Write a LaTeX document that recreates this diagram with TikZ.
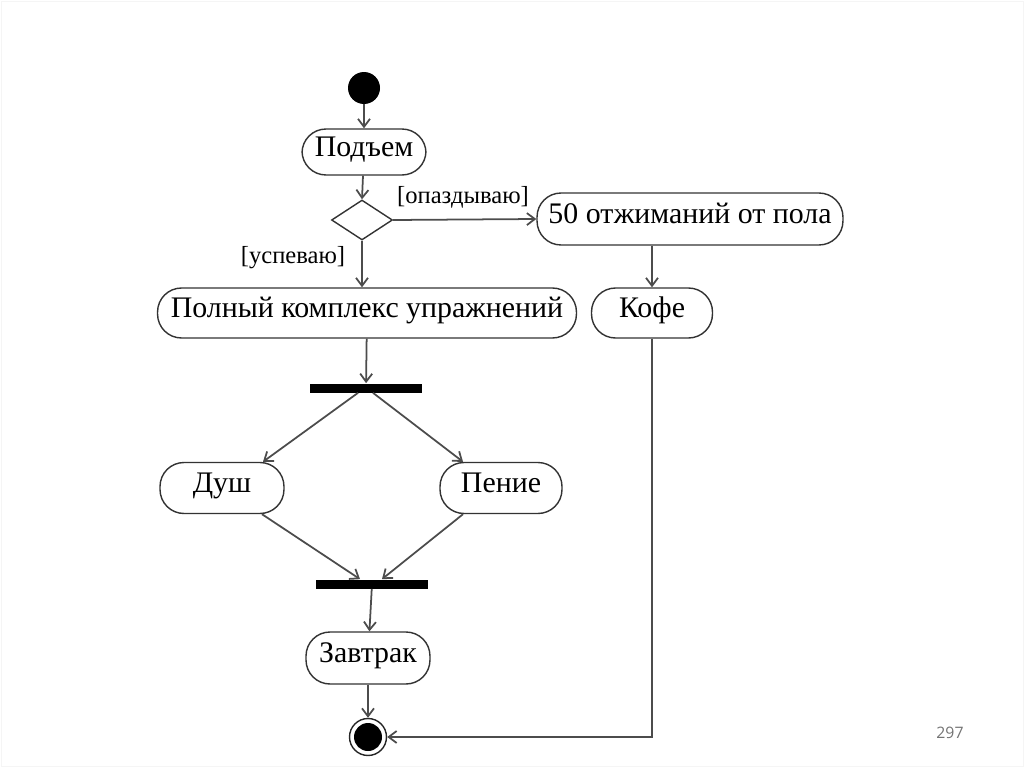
\documentclass[tikz,border=0pt]{standalone}
\usepackage{fontspec}
\setmainfont{Liberation Serif}
\newfontfamily\pagefont{Open Sans}
\usetikzlibrary{shapes.geometric,arrows.meta}
\tikzset{
  act/.style={draw=black!80,line width=0.8pt,rounded corners=0.48cm,minimum height=1cm,inner sep=2pt,
    text height=1.5ex,text depth=0.4ex,font=\fontsize{17}{19}\selectfont},
  bar/.style={fill=black,minimum width=2.24cm,minimum height=0.18cm,inner sep=0pt},
  guard/.style={font=\fontsize{14}{16}\selectfont,inner sep=1pt},
  flow/.style={draw=black!70,line width=1pt,-{Straight Barb[length=1.6mm,width=2.4mm]}}
}
\begin{document}
\begin{tikzpicture}[x=0.02cm,y=-0.02cm]
        \useasboundingbox (0,0) rectangle (1024,767);
        \draw [black!4] (1,1) rectangle (1023,766);
        % start and decision
        \node [circle,fill=black,minimum size=0.64cm,inner sep=0pt] (start) at (364,88) {};
        \node [act,minimum width=2.48cm,minimum height=0.92cm] (rise) at (364,152) {Подъем};
        \node [diamond,draw=black!80,line width=0.8pt,minimum width=1.22cm,minimum height=0.8cm,inner sep=0pt] (dec) at (362,220) {};
        \node [act,minimum width=6.12cm,minimum height=1.04cm] (push) at (690,219) {50 отжиманий от пола};
        \node [act,minimum width=8.38cm] (full) at (367,313) {Полный комплекс упражнений};
        \node [act,minimum width=2.42cm] (coffee) at (652,313) {Кофе};
        % fork and join
        \node [bar] (fork) at (366,388) {};
        \node [act,minimum width=2.48cm,minimum height=1.02cm] (shower) at (222,488) {Душ};
        \node [act,minimum width=2.44cm,minimum height=1.02cm] (sing) at (501,488) {Пение};
        \node [bar] (join) at (372,584) {};
        \node [act,minimum width=2.48cm,minimum height=1.04cm] (meal) at (368,658) {Завтрак};
        \node [circle,draw=black!85,line width=0.8pt,minimum size=0.74cm,inner sep=0pt] (end) at (368,737) {};
        \fill [black] (end) circle[radius=0.28cm];
        % flows
        \draw [flow] (start) -- (rise);
        \draw [flow] (rise) -- (dec.north);
        \draw [flow] (dec.east) -- (push.west);
        \node [guard] at (463,197) {[опаздываю]};
        \draw [flow] (dec.south) -- (full.north -| dec.south);
        \node [guard] at (293,258) {[успеваю]};
        \draw [flow] (full) -- (fork);
        \draw [flow] (coffee.north |- push.south) -- (coffee);
        \draw [flow] ([xshift=-0.16cm]fork.south) -- ([xshift=0.82cm]shower.north);
        \draw [flow] ([xshift=0.14cm]fork.south) -- ([xshift=-0.76cm]sing.north);
        \draw [flow] ([xshift=0.8cm]shower.south) -- ([xshift=-0.24cm]join.north);
        \draw [flow] ([xshift=-0.76cm]sing.south) -- ([xshift=0.2cm]join.north);
        \draw [flow] (join) -- (meal);
        \draw [flow] (meal) -- (end);
        \draw [flow] (coffee.south) |- (end.east);
        \node [text=black!55,font=\pagefont\fontsize{9}{11}\selectfont] (page) at (950,733) {297};
\end{tikzpicture}
\end{document}
